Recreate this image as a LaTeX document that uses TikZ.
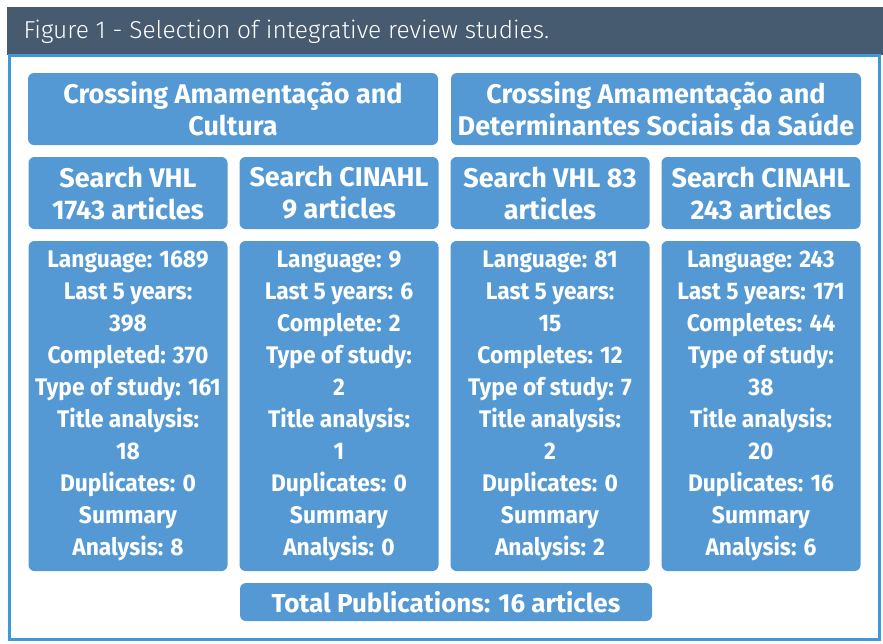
\documentclass[tikz,border=0pt]{standalone}
\usepackage{fontspec}
\setmainfont{Fira Sans}
\newfontfamily\titlefont{Fira Sans Light}
\newfontfamily\countfont{Fira Sans}[FakeStretch=0.95]
\definecolor{headgray}{HTML}{475B70}
\definecolor{frameblue}{HTML}{3C9AD8}
\definecolor{boxblue}{HTML}{5499D3}
\tikzset{
  stepbox/.style={fill=boxblue, rounded corners=6pt, text=white, align=center, inner sep=0pt,
    font=\bfseries\fontsize{27}{32}\selectfont},
  widebox/.style={stepbox, minimum width=410pt, minimum height=72pt},
  searchbox/.style={stepbox, minimum width=199pt, minimum height=72pt},
  countbox/.style={stepbox, minimum width=199pt, minimum height=330pt,
    font=\countfont\bfseries\fontsize{24}{32}\selectfont},
}
\begin{document}
\begin{tikzpicture}[x=1pt, y=-1pt]
    \useasboundingbox[fill=white] (0,0) rectangle (883,643);
    \fill[headgray] (7,7) rectangle (883,55);
    \draw[frameblue, line width=3pt] (9.5,55) rectangle (879.5,639);
    \node[anchor=west, text=white, font=\titlefont\fontsize{24.5}{28}\selectfont] (title) at (20,32)
      {Figure 1 - Selection of integrative review studies.};
    % crossings
    \node[widebox] (cult) at (233,109) {Crossing Amamentação and\\Cultura};
    \node[widebox] (dss) at (656,109) {Crossing Amamentação and\\Determinantes Sociais da Saúde};
    % searches
    \node[searchbox] (vhla) at (128,193) {Search VHL\\1743 articles};
    \node[searchbox] (cina) at (339,193) {Search CINAHL\\9 articles};
    \node[searchbox] (vhlb) at (550,193) {Search VHL 83\\articles};
    \node[searchbox] (cinb) at (761,193) {Search CINAHL\\243 articles};
    % counts
    \node[countbox] (cnta) at (128,406) {Language: 1689\\Last 5 years:\\398\\Completed: 370\\Type of study: 161\\Title analysis:\\18\\Duplicates: 0\\Summary\\Analysis: 8};
    \node[countbox] (cntb) at (339,406) {Language: 9\\Last 5 years: 6\\Complete: 2\\Type of study:\\2\\Title analysis:\\1\\Duplicates: 0\\Summary\\Analysis: 0};
    \node[countbox] (cntc) at (550,406) {Language: 81\\Last 5 years:\\15\\Completes: 12\\Type of study: 7\\Title analysis:\\2\\Duplicates: 0\\Summary\\Analysis: 2};
    \node[countbox] (cntd) at (761,406) {Language: 243\\Last 5 years: 171\\Completes: 44\\Type of study:\\38\\Title analysis:\\20\\Duplicates: 16\\Summary\\Analysis: 6};
    % total
    \node[stepbox, minimum width=412pt, minimum height=38pt, font=\bfseries\fontsize{26}{32}\selectfont] (total) at (446,602) {Total Publications: 16 articles};
\end{tikzpicture}
\end{document}
